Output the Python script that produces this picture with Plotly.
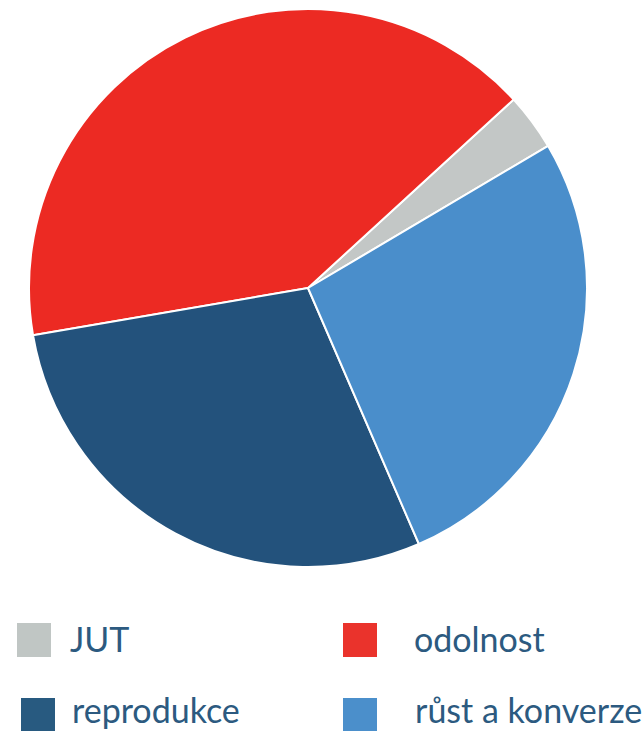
import plotly.graph_objects as go

# Share of each area (percent), in the order the slices run
labels = ["JUT", "odolnost", "reprodukce", "růst a konverze"]
values = [3.3, 40.9, 28.8, 27.0]
slice_colors = ["#C3C7C6", "#EC2A23", "#23527C", "#4A8ECB"]
key_colors = ["#C0C6C4", "#EA332C", "#285A80", "#4B8FCB"]

W, H = 644, 731
TEXT_COLOR = "#2C5A80"

fig = go.Figure()

fig.add_trace(go.Pie(
    labels=labels,
    values=values,
    sort=False,
    direction="counterclockwise",
    rotation=47.5,
    marker=dict(colors=slice_colors, line=dict(color="white", width=2)),
    textinfo="none",
    hoverinfo="label+percent",
    showlegend=False,
    domain=dict(x=[29 / W, 587 / W], y=[1 - 567 / H, 1 - 9 / H]),
))


def px_x(v):
    return v / W


def px_y(v):
    return 1 - v / H


# Two-column key below the pie: square left, square top, text left, text centre
key_cells = [
    (17, 623, 68, 638),
    (343, 623, 412, 638),
    (21, 698, 70, 709),
    (343, 698, 413, 709),
]
shapes = []
annotations = []
for (sx, sy, tx, ty), name, col in zip(key_cells, labels, key_colors):
    shapes.append(dict(
        type="rect", xref="paper", yref="paper",
        x0=px_x(sx), x1=px_x(sx + 34), y0=px_y(sy + 34), y1=px_y(sy),
        fillcolor=col, line=dict(width=0),
    ))
    annotations.append(dict(
        text=name, xref="paper", yref="paper",
        x=px_x(tx), y=px_y(ty), xanchor="left", yanchor="middle",
        showarrow=False, font=dict(family="Lato", size=34, color=TEXT_COLOR),
    ))

fig.update_layout(
    width=W, height=H,
    margin=dict(l=0, r=0, t=0, b=0),
    paper_bgcolor="white",
    plot_bgcolor="white",
    shapes=shapes,
    annotations=annotations,
)

fig.write_html("out.html")
